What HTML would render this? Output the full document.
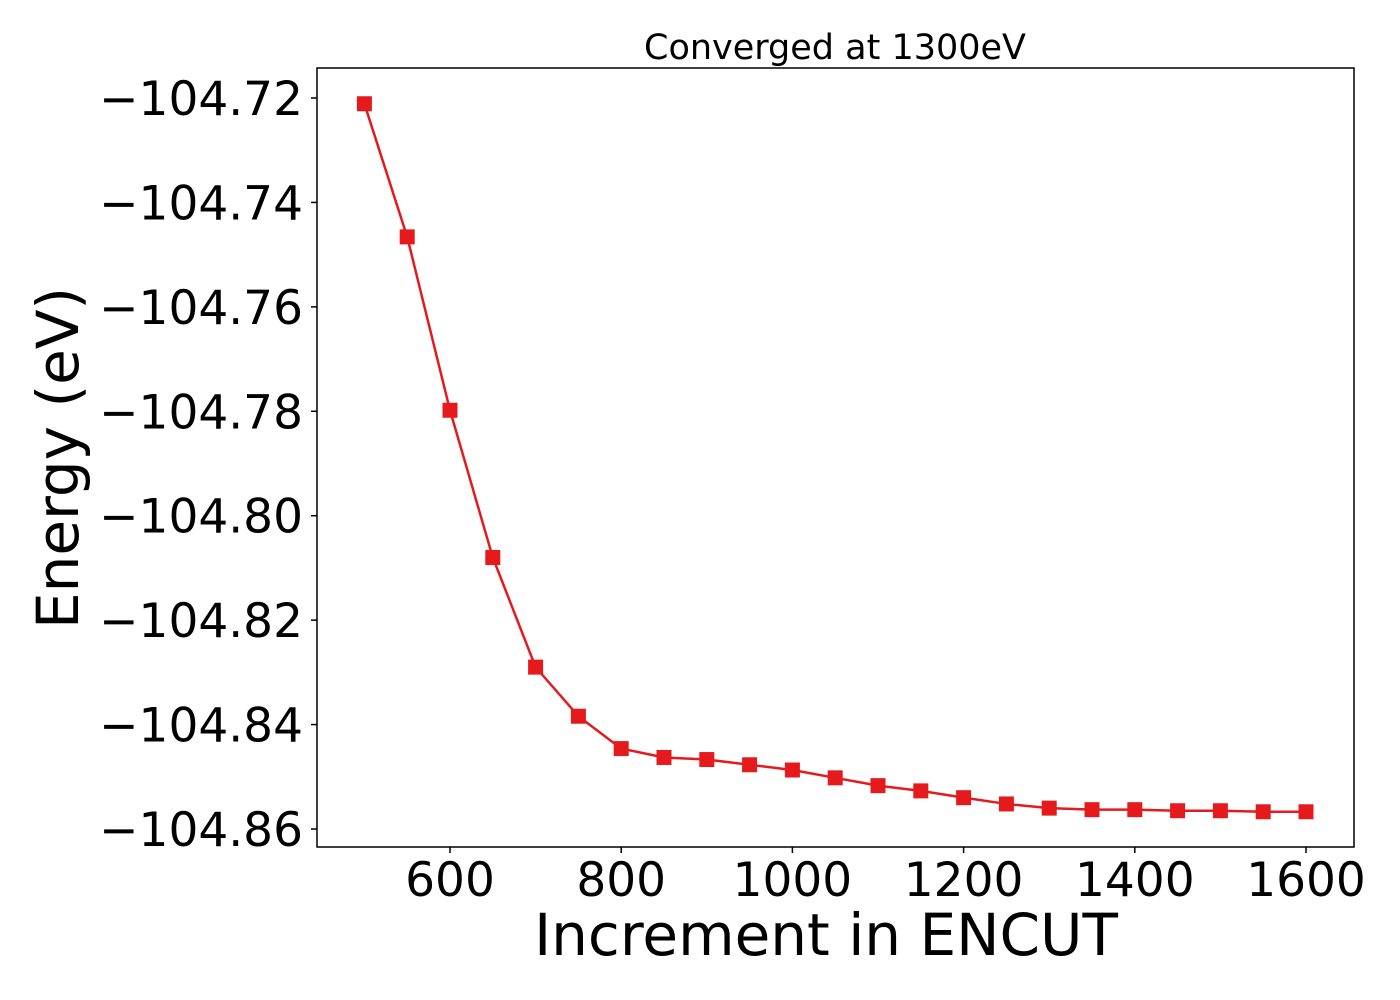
<!DOCTYPE html>
<html><head><meta charset="utf-8"><style>
html,body{margin:0;padding:0;background:#fff;}
svg{display:block;font-family:"DejaVu Sans","Liberation Sans",sans-serif;}
</style></head><body>
<svg id="chart" width="1400" height="1000">
<rect x="0" y="0" width="1400" height="1000" fill="#fff"/>
<text x="835" y="59" font-size="35" text-anchor="middle">Converged at 1300eV</text>
<g id="ticks"></g>
<g id="series"></g>
<rect x="317" y="68" width="1037" height="779" fill="none" stroke="#000" stroke-width="1.5"/>
<text x="826" y="955" font-size="58" text-anchor="middle">Increment in ENCUT</text>
<text transform="translate(78,458) rotate(-90)" font-size="58" text-anchor="middle">Energy (eV)</text>
</svg>
<script>
const xValues=[500,550,600,650,700,750,800,850,900,950,1000,1050,1100,1150,1200,1250,1300,1350,1400,1450,1500,1550,1600];
const energies=[-104.7211,-104.7466,-104.7798,-104.8080,-104.8290,-104.8384,-104.8446,-104.8463,-104.8467,-104.8477,-104.8487,-104.8502,-104.8517,-104.8527,-104.8540,-104.8552,-104.8560,-104.8563,-104.8563,-104.8565,-104.8565,-104.8567,-104.8567];
const xTicks=[600,800,1000,1200,1400,1600];
const yTicks=[-104.72,-104.74,-104.76,-104.78,-104.80,-104.82,-104.84,-104.86];
const yTickLabels=["−104.72","−104.74","−104.76","−104.78","−104.80","−104.82","−104.84","−104.86"];
const NS="http://www.w3.org/2000/svg";
function xs(v){return 450+(v-600)*(1306-450)/1000;}
function ys(v){return 98+(-104.72-v)/0.14*731;}
const tg=document.getElementById('ticks');
xTicks.forEach(t=>{
  const l=document.createElementNS(NS,'line');
  l.setAttribute('x1',xs(t));l.setAttribute('x2',xs(t));l.setAttribute('y1',847);l.setAttribute('y2',853);l.setAttribute('stroke','#000');l.setAttribute('stroke-width','1.5');
  
  
  tg.appendChild(l);
  const tx=document.createElementNS(NS,'text');
  tx.setAttribute('x',xs(t));tx.setAttribute('y',896);tx.setAttribute('font-size','47');tx.setAttribute('text-anchor','middle');
  tx.textContent=t;
  
  
  tg.appendChild(tx);
});
yTicks.forEach((t,i)=>{
  const l=document.createElementNS(NS,'line');
  l.setAttribute('x1',311);l.setAttribute('x2',317);l.setAttribute('y1',ys(t));l.setAttribute('y2',ys(t));l.setAttribute('stroke','#000');l.setAttribute('stroke-width','1.5');
  
  
  tg.appendChild(l);
  const tx=document.createElementNS(NS,'text');
  tx.setAttribute('x',303);tx.setAttribute('y',ys(t)+17);tx.setAttribute('font-size','47');tx.setAttribute('text-anchor','end');
  tx.textContent=yTickLabels[i];
  
  
  tg.appendChild(tx);
});
const sg=document.getElementById('series');
const pl=document.createElementNS(NS,'polyline');
pl.setAttribute('points',xValues.map((x,i)=>xs(x)+','+ys(energies[i])).join(' '));
pl.setAttribute('fill','none');pl.setAttribute('stroke','#e41a1c');pl.setAttribute('stroke-width','2.5');


sg.appendChild(pl);
xValues.forEach((x,i)=>{
  const r=document.createElementNS(NS,'rect');
  r.setAttribute('x',xs(x)-7.5);r.setAttribute('y',ys(energies[i])-7.5);r.setAttribute('width',15);r.setAttribute('height',15);r.setAttribute('fill','#e41a1c');
  
  
  sg.appendChild(r);
});
</script>
</body></html>
